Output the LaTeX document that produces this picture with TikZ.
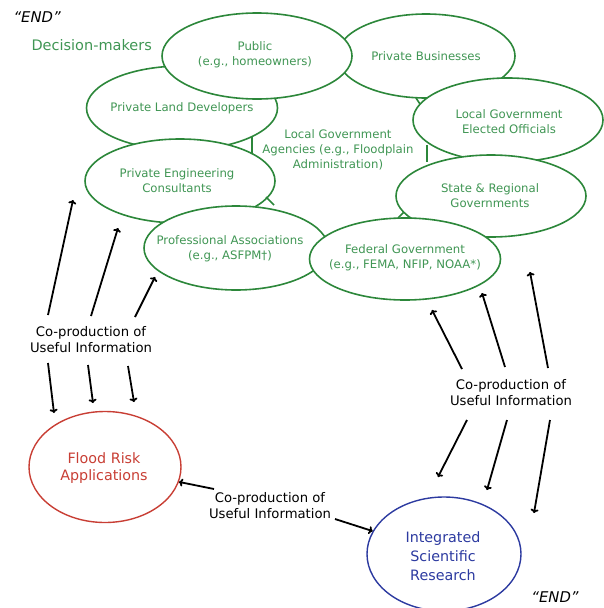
\documentclass[tikz,border=0pt]{standalone}
\usepackage{fontspec}
\setmainfont{DejaVu Sans}
\usetikzlibrary{shapes.geometric,arrows.meta}
\definecolor{gtext}{RGB}{64,150,84}
\definecolor{gline}{RGB}{44,135,58}
\definecolor{rline}{RGB}{200,62,52}
\definecolor{bline}{RGB}{44,58,160}
\tikzset{
  ring/.style={ellipse,draw=gline,line width=1.6pt,fill=white,inner sep=0pt},
  ringtxt/.style={text=gtext,align=center,inner sep=0pt,font=\fontsize{11.7}{15}\selectfont},
  tie/.style={draw=gline,line width=1.6pt},
  arr/.style={line width=1.8pt,-{To[length=4pt,width=8pt]}},
  lbl/.style={align=center,font=\fontsize{13.2}{16}\selectfont},
  endtxt/.style={font=\fontsize{14.8}{16}\selectfont\itshape},
}
\begin{document}
\begin{tikzpicture}[x=1pt,y=-1pt]
\useasboundingbox (0,0) rectangle (604,608);
% ring of decision-makers (shapes)
\node[ring,minimum width=191,minimum height=84] (land) at (182,108) {};
\node[ring,minimum width=178,minimum height=84] (biz) at (426,56) {};
\node[ring,minimum width=190,minimum height=86] (pub) at (257,56) {};
\node[ring,minimum width=190,minimum height=84] (elect) at (508,120) {};
\node[ring,minimum width=190,minimum height=82] (state) at (491,196) {};
\node[ring,minimum width=190,minimum height=84] (eng) at (180,181) {};
\node[ring,minimum width=184,minimum height=84] (prof) at (236,248) {};
\node[ring,minimum width=191,minimum height=82] (fed) at (405,259) {};
% ring texts
\node[ringtxt] (landt) at (land.center) {Private Land Developers};
\node[ringtxt] (bizt) at (biz.center) {Private Businesses};
\node[ringtxt] (pubt) at (255,55) {Public\\(e.g., homeowners)};
\node[ringtxt] (electt) at (509,122) {Local Government\\Elected Officials};
\node[ringtxt] (engt) at (177,181) {Private Engineering\\Consultants};
\node[ringtxt] (statet) at (490,196) {State \& Regional\\Governments};
\node[ringtxt] (proft) at (230,249) {Professional Associations\\(e.g., ASFPM\textdagger)};
\node[ringtxt] (fedt) at (405,258) {Federal Government\\(e.g., FEMA, NFIP, NOAA*)};
\node[ringtxt] (agency) at (338,150) {Local Government\\Agencies (e.g., Floodplain\\Administration)};
% short ties between neighbouring ellipses
\coordinate (t1a) at (252,137); \coordinate (t1b) at (252,153);
\coordinate (t2a) at (427,145); \coordinate (t2b) at (427,162);
\coordinate (t3a) at (266,197); \coordinate (t3b) at (274,205);
\coordinate (t4a) at (404,212); \coordinate (t4b) at (398,218);
\coordinate (t5a) at (416,98); \coordinate (t5b) at (420,104);
\draw[tie] (t1a) -- (t1b);
\draw[tie] (t2a) -- (t2b);
\draw[tie] (t3a) -- (t3b);
\draw[tie] (t4a) -- (t4b);
\draw[tie] (t5a) -- (t5b);
% titles
\node[anchor=west,endtxt] (end1) at (10,17) {“END”};
\node[anchor=west,text=gtext,font=\fontsize{14.5}{16}\selectfont] (dm) at (28,45) {Decision-makers};
\node[endtxt] (end2) at (555,597) {“END”};
% bottom ellipses
\node[ellipse,draw=rline,line width=1.4pt,minimum width=152,minimum height=111,inner sep=0pt] (flood) at (105,467) {};
\node[text=rline,align=center,inner sep=0pt,font=\fontsize{14.3}{17}\selectfont] (floodt) at (104,468) {Flood Risk\\Applications};
\node[ellipse,draw=bline,line width=1.4pt,minimum width=154,minimum height=114,inner sep=0pt] (isr) at (444,554) {};
\node[text=bline,align=center,inner sep=0pt,font=\fontsize{14.3}{19}\selectfont] (isrt) at (443,556) {Integrated\\Scientific\\Research};
% labels
\node[lbl] (cpl) at (91,340) {Co-production of\\Useful Information};
\node[lbl] (cpr) at (511,393) {Co-production of\\Useful Information};
\node[lbl] (cpb) at (270,506) {Co-production of\\Useful Information};
% left group arrows
\coordinate (la1) at (48,315); \coordinate (lb1) at (73,200);
\coordinate (la2) at (91,316); \coordinate (lb2) at (118,228);
\coordinate (la3) at (135,317); \coordinate (lb3) at (155,277);
\coordinate (lc1) at (48,363); \coordinate (ld1) at (54,413);
\coordinate (lc2) at (88,365); \coordinate (ld2) at (93,403);
\coordinate (lc3) at (128,366); \coordinate (ld3) at (134,402);
\draw[arr] (la1) -- (lb1);
\draw[arr] (la2) -- (lb2);
\draw[arr] (la3) -- (lb3);
\draw[arr] (lc1) -- (ld1);
\draw[arr] (lc2) -- (ld2);
\draw[arr] (lc3) -- (ld3);
% right group arrows
\coordinate (ra1) at (462,369); \coordinate (rb1) at (432,310);
\coordinate (ra2) at (505,367); \coordinate (rb2) at (482,293);
\coordinate (ra3) at (548,368); \coordinate (rb3) at (530,272);
\coordinate (rc1) at (467,420); \coordinate (rd1) at (438,477);
\coordinate (rc2) at (507,420); \coordinate (rd2) at (487,490);
\coordinate (rc3) at (550,420); \coordinate (rd3) at (534,513);
\draw[arr] (ra1) -- (rb1);
\draw[arr] (ra2) -- (rb2);
\draw[arr] (ra3) -- (rb3);
\draw[arr] (rc1) -- (rd1);
\draw[arr] (rc2) -- (rd2);
\draw[arr] (rc3) -- (rd3);
% bottom arrows
\coordinate (ba) at (214,489); \coordinate (bb) at (335,519);
\draw[arr] (ba) -- (flood);
\draw[arr] (bb) -- (isr);
\end{tikzpicture}
\end{document}
